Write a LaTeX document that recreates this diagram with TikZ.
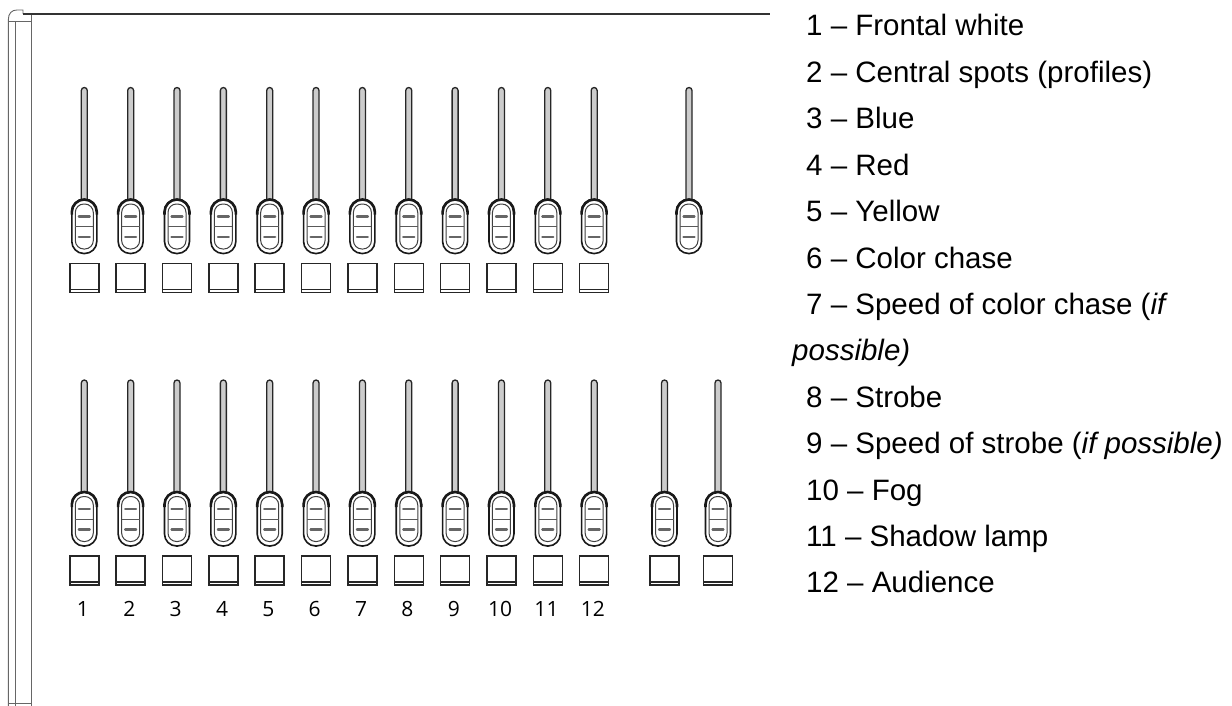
\documentclass[tikz,border=0pt]{standalone}
\usepackage{fontspec}
\setmainfont{Liberation Sans}
\newfontfamily\numfont{Open Sans}
\begin{document}
\begin{tikzpicture}[x=1pt,y=-1pt,
  frameline/.style={draw=black!60,line width=0.9},
  stemline/.style={draw=black!85,fill=black!20,line width=1.3},
  knobout/.style={draw=black!90,fill=white,line width=1.6,rounded corners=12},
  knobin/.style={draw=black!75,line width=1.0,rounded corners=8.5},
  dashmark/.style={draw=black!60,line width=2.2,line cap=round},
  btn/.style={draw=black!85,fill=white,line width=1.5},
  legend/.style={anchor=base west,inner sep=0pt,font=\fontsize{29.5}{32}\selectfont},
  numlab/.style={anchor=base,inner sep=0pt,font=\numfont\fontsize{21}{23}\selectfont},
  fader/.pic={
    \draw[stemline,rounded corners=3] (-3,2) -- (-3,-112) -- (3,-112) -- (3,2);
    \draw[knobout] (-12.5,0) rectangle (12.5,54);
    \draw[draw=black!90,line width=2.6,rounded corners=12.5] (-12.5,15) -- (-12.5,0) -- (12.5,0) -- (12.5,15);
    \draw[knobin] (-9,4.5) rectangle (9,49.5);
    \draw[draw=black!65,line width=1.0] (-9,27) -- (9,27);
    \draw[dashmark] (-5.5,17) -- (5.5,17);
    \draw[dashmark] (-5.5,37.5) -- (5.5,37.5);
  },
  button/.pic={
    \draw[btn] (-14.5,64) rectangle (14.5,93);
    \draw[draw=black!85,line width=1.4] (-14.5,90) -- (14.5,90);
  }]
\useasboundingbox (0,0) rectangle (1232,706);
% panel frame
\draw[frameline] (8.3,706) -- (8.3,20) .. controls (8.3,13) and (12,10) .. (17,10) -- (23,10) -- (23,14);
\draw[frameline] (15,706) -- (15,21.7);
\draw[frameline] (31,706) -- (31,14);
\draw[frameline] (8.3,21.7) -- (31,21.7);
\draw[frameline] (8.3,703) -- (31,703);
\draw[draw=black!80,line width=2.4] (23,14) -- (770,14);
% upper row
\foreach \i in {1,...,12}{
  \pic (up\i) at ({84.3+46.35*(\i-1)},199.5) {fader};
  \pic (ub\i) at ({84.3+46.35*(\i-1)},199.5) {button};
}
\pic (upx) at (689,199.5) {fader};
% lower row
\foreach \i in {1,...,12}{
  \pic (lo\i) at ({84.3+46.35*(\i-1)},492) {fader};
  \pic (lb\i) at ({84.3+46.35*(\i-1)},492) {button};
  \node[numlab] (n\i) at ({83+46.35*(\i-1)},616) {\i};
}
\pic (lox1) at (664.5,492) {fader};
\pic (lbx1) at (664.5,492) {button};
\pic (lox2) at (718,492) {fader};
\pic (lbx2) at (718,492) {button};
% legend
\node[legend] (l1) at (806,36.0) {1 – Frontal white};
\node[legend] (l2) at (806,82.4) {2 – Central spots (profiles)};
\node[legend] (l3) at (806,128.8) {3 – Blue};
\node[legend] (l4) at (806,175.2) {4 – Red};
\node[legend] (l5) at (806,221.6) {5 – Yellow};
\node[legend] (l6) at (806,268.0) {6 – Color chase};
\node[legend] (l7) at (806,314.4) {7 – Speed of color chase (\textit{if}};
\node[legend] (l7b) at (792,360.8) {\textit{possible)}};
\node[legend] (l8) at (806,407.2) {8 – Strobe};
\node[legend] (l9) at (806,453.6) {9 – Speed of strobe (\textit{if possible)}};
\node[legend] (l10) at (806,500.0) {10 – Fog};
\node[legend] (l11) at (806,546.4) {11 – Shadow lamp};
\node[legend] (l12) at (806,592.8) {12 – Audience};
\end{tikzpicture}
\end{document}
